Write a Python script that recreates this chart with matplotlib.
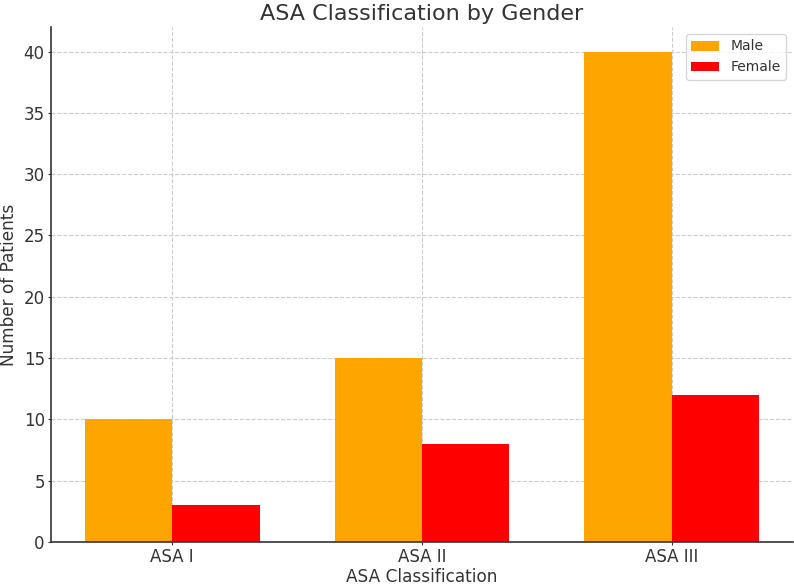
import numpy as np
import matplotlib.pyplot as plt

# Data
categories = ['ASA I', 'ASA II', 'ASA III']
male = [10, 15, 40]
female = [3, 8, 12]

plt.rcParams['text.color'] = '#333333'
plt.rcParams['axes.labelcolor'] = '#333333'
plt.rcParams['xtick.color'] = '#333333'
plt.rcParams['ytick.color'] = '#333333'

x = np.arange(len(categories))
width = 0.35

fig, ax = plt.subplots(figsize=(7.94, 5.84), dpi=100)
fig.subplots_adjust(left=51/794, right=793/794, top=1 - 27/584, bottom=1 - 542/584)

ax.bar(x - width/2, male, width, label='Male', color='orange')
ax.bar(x + width/2, female, width, label='Female', color='red')

ax.set_title('ASA Classification by Gender', fontsize=16, pad=5)
ax.set_xlabel('ASA Classification', fontsize=12.2, labelpad=1)
ax.set_ylabel('Number of Patients', fontsize=12.2, labelpad=4)
ax.set_xticks(x)
ax.set_xticklabels(categories)
ax.tick_params(labelsize=12, length=2.5, pad=2)

ax.spines['top'].set_visible(False)
ax.spines['right'].set_visible(False)
for s in ['left', 'bottom']:
    ax.spines[s].set_color('#333333')
    ax.spines[s].set_linewidth(1.2)

ax.set_axisbelow(True)
ax.grid(True, linestyle='--', color='#cccccc', linewidth=0.8)
ax.legend(fontsize=10, loc='upper right')

plt.savefig('out.png')
